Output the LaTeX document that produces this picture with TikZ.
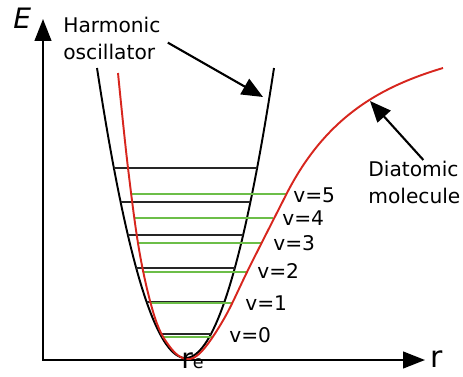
\documentclass[tikz,border=0pt]{standalone}
\usepackage{fontspec}
\setmainfont{DejaVu Sans}
\usetikzlibrary{arrows.meta}

\definecolor{morsered}{RGB}{215,38,30}
\definecolor{levelgreen}{RGB}{108,190,72}

\begin{document}
\begin{tikzpicture}[
  x=0.02cm, y=-0.02cm,
  axis/.style={line width=1.2pt,
               {Triangle[length=12.5pt, width=9.5pt]}-{Triangle[length=12.5pt, width=9.5pt]}},
  pointer/.style={-{Triangle[length=12pt, width=10pt]}, line width=1.2pt},
  harm/.style={line width=1.1pt, black},
  morse/.style={line width=1.1pt, morsered},
  hlevel/.style={line width=1.1pt, black!85},
  mlevel/.style={line width=1.3pt, levelgreen},
  lbl/.style={inner sep=0, font=\fontsize{11.5}{15.3}\selectfont, align=left},
  vlbl/.style={lbl, anchor=west}
]
\useasboundingbox (0,0) rectangle (463,376);

% axes
\coordinate (origin) at (43,360);
\coordinate (Etip) at (43,19);
\coordinate (rtip) at (425,360);
\draw[axis] (Etip) -- (origin) -- (rtip);

% harmonic oscillator and its levels
\draw[harm] plot[domain=97:274, samples=80] (\x, {358-290*((\x-185.5)/88.5)^2});
\foreach \ly in {168,202,235,268,302,334} {
  \pgfmathsetmacro\hw{88.5*sqrt((358-\ly)/290)}
  \draw[hlevel] (185.5-\hw,\ly) -- (185.5+\hw,\ly);
}

% diatomic molecule levels
\foreach \ly/\xa/\xb in {194/132/286, 218/134/273, 243/138/261,
                         272/143/247, 303/151/232, 337/162/212}
  \draw[mlevel] (\xa,\ly) -- (\xb,\ly);

% morse curve
\draw[morse] plot[smooth, tension=0.6] coordinates {
  (118,73) (128,168) (140,255) (155,318) (170,347) (186,359) (202,351)
  (225,317) (250,266) (287,193)}
  .. controls (327,115) and (383,86) .. (443,68);

% labels
\node[anchor=base west, inner sep=0, font=\fontsize{16}{16}\selectfont\itshape] (Elbl) at (13,28) {E};
\node[anchor=base west, inner sep=0, font=\fontsize{17}{17}\selectfont] (rlbl) at (430,367) {r};
\node[anchor=base west, inner sep=0, font=\fontsize{16}{16}\selectfont] (re) at (181,368)
  {r{\fontsize{10}{10}\selectfont e}};

\foreach \v/\px/\py in {0/229/335, 1/245/303, 2/257/271, 3/273/243, 4/282/218, 5/293/195}
  \node[vlbl] (v\v) at (\px,\py) {v=\v};

\node[lbl, anchor=north west] (harmonic) at (63,17) {Harmonic\\oscillator};
\node[lbl, anchor=north west] (diatomic) at (368,161) {Diatomic\\molecule};

\coordinate (hotip) at (263,97);
\coordinate (dmtip) at (370,101);
\draw[pointer] ([shift={(7,4)}]harmonic.east) -- (hotip);
\draw[pointer] ([shift={(9,-1)}]diatomic.north) -- (dmtip);
\end{tikzpicture}
\end{document}
